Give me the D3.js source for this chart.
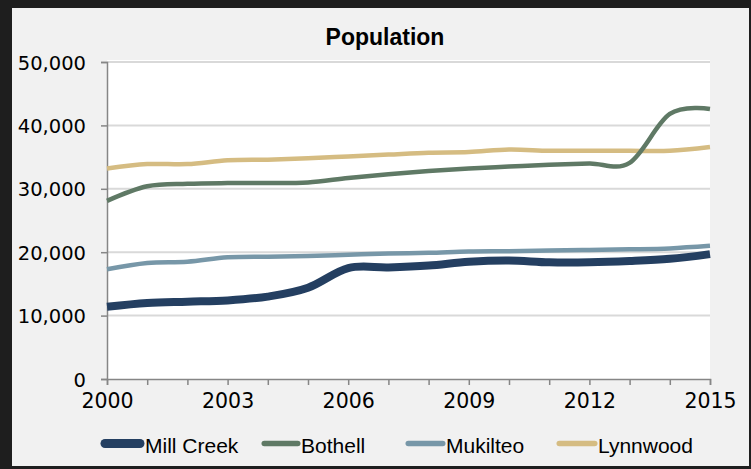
<!DOCTYPE html>
<html><head><meta charset="utf-8">
<script src="https://cdn.jsdelivr.net/npm/d3@7"></script>
<style>html,body{margin:0;padding:0;background:#1e1e1e;}svg{display:block;}</style>
</head><body><svg id="c" width="751" height="469"></svg>
<script>
const years = [2000,2001,2002,2003,2004,2005,2006,2007,2008,2009,2010,2011,2012,2013,2014,2015];
const millCreek = [11400,12000,12200,12400,13000,14400,17500,17600,17900,18500,18700,18400,18400,18600,18950,19700];
const bothell   = [28100,30400,30800,30900,30900,31000,31700,32300,32800,33200,33500,33800,34000,34100,41800,42600];
const mukilteo  = [17300,18300,18500,19200,19300,19400,19600,19800,19900,20100,20150,20250,20350,20450,20600,21000];
const lynnwood  = [33200,33900,33900,34500,34600,34800,35100,35400,35700,35800,36200,36000,36000,36000,36000,36600];
const seriesNames = ["Mill Creek","Bothell","Mukilteo","Lynnwood"];
const yTicks = [0,10000,20000,30000,40000,50000];
const xTickLabels = [2000,2003,2006,2009,2012,2015];
const title = "Population";

const colors = ["#243f61","#5f7965","#7797a8","#d5bc82"];
const widths = [8,4.5,4.5,4.5];
const seriesData = [millCreek,bothell,mukilteo,lynnwood];

const svg = d3.select("#c");
svg.append("rect").attr("x",12).attr("y",8).attr("width",737).attr("height",458).attr("fill","#f1f1f1");

const L=107,R=710,T=62,B=379;
const x = d3.scaleLinear().domain([2000,2015]).range([L,R]);
const y = d3.scaleLinear().domain([0,50000]).range([B,T]);

svg.append("rect").attr("x",L).attr("y",T-2).attr("width",R-L).attr("height",B-T+2).attr("fill","#ffffff");

svg.append("g").selectAll("line").data(yTicks.filter(d=>d>0)).join("line")
  .attr("x1",L).attr("x2",R).attr("y1",d=>y(d)).attr("y2",d=>y(d))
  .attr("stroke","#d9d9d9").attr("stroke-width",2);

svg.append("text").attr("x",385).attr("y",45).attr("text-anchor","middle")
  .attr("font-family","Liberation Sans, Arial, sans-serif").attr("font-weight","bold")
  .attr("font-size",23).attr("fill","#000").text(title);

const yAxis = d3.axisLeft(y).tickValues(yTicks).tickSize(6).tickPadding(15).tickFormat(d3.format(","));
const gy = svg.append("g").attr("transform",`translate(${L},0)`).call(yAxis);
gy.select(".domain").attr("stroke","#868686").attr("stroke-width",1.5);
gy.selectAll(".tick line").attr("stroke","#868686").attr("stroke-width",1.5);
gy.selectAll(".tick text").attr("font-family","DejaVu Sans, sans-serif").attr("font-size",19.5)
  .attr("fill","#000").attr("dy","0.36em");

const xAxis = d3.axisBottom(x).tickValues(years).tickSize(6).tickPadding(8)
  .tickFormat(d=>xTickLabels.includes(d)?String(d):"");
const gx = svg.append("g").attr("transform",`translate(0,${B})`).call(xAxis);
gx.select(".domain").attr("stroke","#868686").attr("stroke-width",1.5);
gx.selectAll(".tick line").attr("stroke","#868686").attr("stroke-width",1.5);
gx.selectAll(".tick text").attr("font-family","DejaVu Sans, sans-serif").attr("font-size",20.5)
  .attr("fill","#000");

const line = d3.line().x((d,i)=>x(years[i])).y(d=>y(d)).curve(d3.curveCardinal.tension(0));
const order = [3,1,2,0];
svg.append("g").selectAll("path").data(order).join("path")
  .attr("d",i=>line(seriesData[i])).attr("fill","none")
  .attr("stroke",i=>colors[i]).attr("stroke-width",i=>widths[i])
  .attr("stroke-linejoin","round").attr("stroke-linecap","butt");

const legendPos = [[101,144],[262,300],[406,445],[557,597]];
const lg = svg.append("g");
seriesNames.forEach((n,i)=>{
  lg.append("line").attr("x1",legendPos[i][0]+widths[i]/2).attr("x2",legendPos[i][1]-widths[i]/2)
    .attr("y1",443.5).attr("y2",443.5).attr("stroke",colors[i]).attr("stroke-width",widths[i]+1)
    .attr("stroke-linecap","round");
  lg.append("text").attr("x",legendPos[i][1]+1).attr("y",453)
    .attr("font-family","Liberation Sans, Arial, sans-serif").attr("font-size",21)
    .attr("fill","#000").text(n);
});
</script></body></html>
